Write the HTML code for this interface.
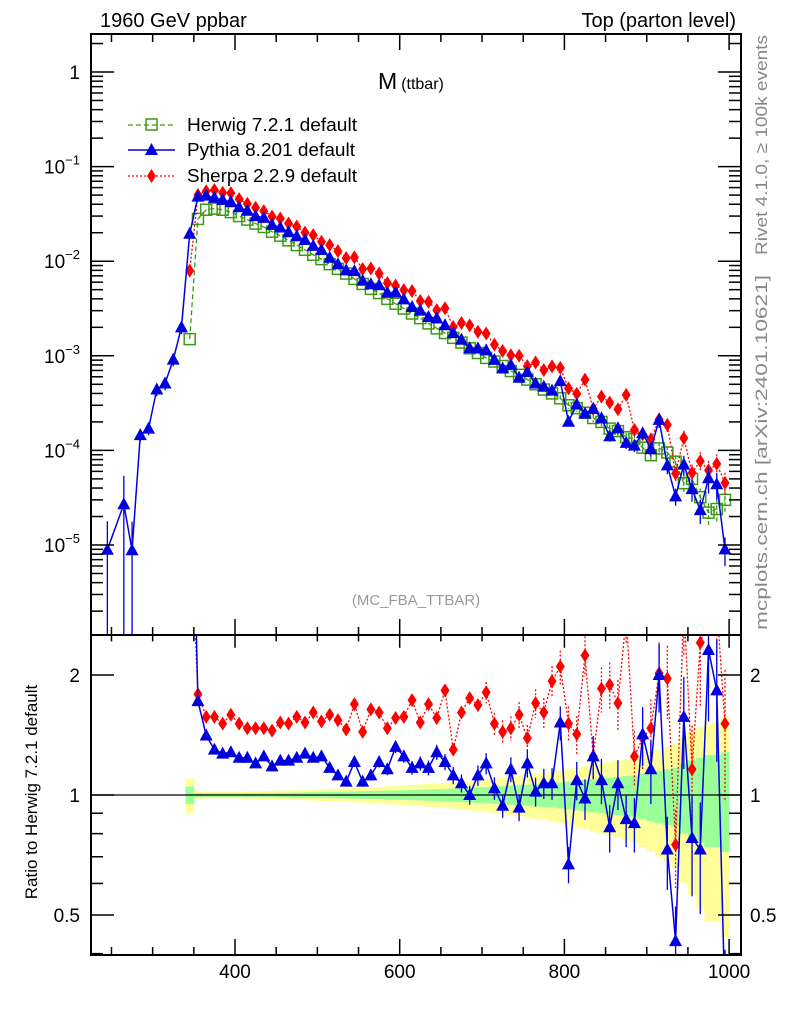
<!DOCTYPE html>
<html><head><meta charset="utf-8"><style>
html,body{margin:0;padding:0;background:#fff;width:786px;height:1024px;overflow:hidden;}
svg{display:block;font-family:"Liberation Sans",sans-serif;}
</style></head><body>
<svg id="chart" width="786" height="1024" viewBox="0 0 786 1024">
<defs>
<clipPath id="clipMain"><rect x="91" y="34" width="650" height="601"/></clipPath>
<clipPath id="clipRatio"><rect x="91" y="635" width="650" height="320"/></clipPath>
</defs>
<g id="bands" clip-path="url(#clipRatio)"></g>
<line x1="91" y1="795" x2="741" y2="795" stroke="#000" stroke-width="1.3"/>
<g id="mainG" clip-path="url(#clipMain)"></g>
<g id="ratioG" clip-path="url(#clipRatio)"></g>
<g id="axes"></g>
<rect x="91" y="34" width="650" height="601" fill="none" stroke="#000" stroke-width="2"/>
<rect x="91" y="635" width="650" height="320" fill="none" stroke="#000" stroke-width="2"/>
<text x="100" y="27" font-size="20">1960 GeV ppbar</text>
<text x="736" y="27" font-size="20" text-anchor="end">Top (parton level)</text>
<text x="378" y="89" font-size="23">M<tspan font-size="16" dx="4">(ttbar)</tspan></text>
<text x="416" y="605" font-size="15" fill="#999" text-anchor="middle">(MC_FBA_TTBAR)</text>
<text transform="translate(767,255) rotate(-90)" font-size="17" fill="#888" textLength="220" lengthAdjust="spacingAndGlyphs">Rivet 4.1.0, ≥ 100k events</text>
<text transform="translate(767,630) rotate(-90)" font-size="17" fill="#888" textLength="355" lengthAdjust="spacingAndGlyphs">mcplots.cern.ch [arXiv:2401.10621]</text>
<text transform="translate(37,792) rotate(-90)" font-size="17" text-anchor="middle">Ratio to Herwig 7.2.1 default</text>
<g>
<g>
<line x1="128" y1="125" x2="175" y2="125" stroke="#3c9a14" stroke-width="1.3" stroke-dasharray="5,3"/>
<rect x="146" y="119" width="11" height="11" fill="none" stroke="#3c9a14" stroke-width="1.5"/>
<text x="187" y="131" font-size="18" textLength="170" lengthAdjust="spacingAndGlyphs">Herwig 7.2.1 default</text></g>
<g>
<line x1="128" y1="150" x2="175" y2="150" stroke="#0000e0" stroke-width="1.5"/>
<polygon points="151.5,143 145,155 158,155" fill="#0000e0"/>
<text x="187" y="156" font-size="18" textLength="168" lengthAdjust="spacingAndGlyphs">Pythia 8.201 default</text></g>
<g>
<line x1="128" y1="176" x2="175" y2="176" stroke="#ff0000" stroke-width="1.3" stroke-dasharray="2,2"/>
<polygon points="151.5,169 156,176 151.5,183 147,176" fill="#ff0000"/>
<text x="187" y="182" font-size="18" textLength="170" lengthAdjust="spacingAndGlyphs">Sherpa 2.2.9 default</text></g>
</g>
</svg>
<script>
const pyLowBins=[245,265,275,285,295,305,315,325,335];
const pyLowVals=[8.9e-6,2.7e-5,8.8e-6,1.45e-4,1.7e-4,4.4e-4,5.1e-4,9.1e-4,2.0e-3];
const bins=[345,355,365,375,385,395,405,415,425,435,445,455,465,475,485,495,505,515,525,535,545,555,565,575,585,595,605,615,625,635,645,655,665,675,685,695,705,715,725,735,745,755,765,775,785,795,805,815,825,835,845,855,865,875,885,895,905,915,925,935,945,955,965,975,985,995];
const herwig=[1.5e-3,2.8e-2,3.5e-2,3.6e-2,3.5e-2,3.3e-2,3.0e-2,2.75e-2,2.5e-2,2.3e-2,2.05e-2,1.86e-2,1.66e-2,1.48e-2,1.32e-2,1.17e-2,1.05e-2,9.3e-3,8.3e-3,7.4e-3,6.5e-3,5.75e-3,5.1e-3,4.6e-3,4.0e-3,3.55e-3,3.16e-3,2.8e-3,2.5e-3,2.2e-3,1.95e-3,1.74e-3,1.55e-3,1.38e-3,1.2e-3,1.07e-3,9.5e-4,8.7e-4,7.8e-4,6.9e-4,6.3e-4,5.6e-4,5.0e-4,4.4e-4,4.0e-4,3.55e-4,3.0e-4,2.8e-4,2.5e-4,2.2e-4,2.0e-4,1.7e-4,1.6e-4,1.38e-4,1.32e-4,1.07e-4,8.9e-5,1.05e-4,9.5e-5,7.6e-5,4.5e-5,5.0e-5,3.2e-5,2.2e-5,2.4e-5,3.0e-5];
const herwigErr=[0.05,0.012,0.01,0.01,0.01,0.01,0.01,0.011,0.011,0.012,0.012,0.013,0.013,0.014,0.015,0.016,0.017,0.018,0.019,0.02,0.021,0.022,0.023,0.024,0.026,0.027,0.028,0.03,0.031,0.033,0.034,0.036,0.038,0.04,0.042,0.045,0.047,0.05,0.052,0.055,0.058,0.06,0.064,0.067,0.07,0.075,0.08,0.085,0.09,0.095,0.1,0.105,0.11,0.115,0.12,0.13,0.14,0.15,0.16,0.17,0.2,0.22,0.24,0.26,0.26,0.28];
const pythiaRatio=[13,1.72,1.41,1.30,1.27,1.28,1.24,1.24,1.20,1.25,1.18,1.22,1.22,1.24,1.27,1.24,1.25,1.17,1.12,1.08,1.21,1.08,1.12,1.21,1.16,1.32,1.25,1.17,1.20,1.17,1.28,1.21,1.12,1.07,1.00,1.12,1.20,1.04,0.94,1.16,0.93,1.20,1.02,1.07,1.07,1.52,0.67,1.09,0.98,1.25,1.09,0.83,1.07,0.87,0.85,1.42,1.16,2.0,0.73,0.43,1.57,0.78,0.73,2.31,1.83,0.3];
const sherpaRatio=[5.3,1.79,1.57,1.57,1.51,1.59,1.51,1.47,1.47,1.47,1.45,1.52,1.51,1.57,1.52,1.61,1.53,1.59,1.54,1.46,1.69,1.44,1.64,1.61,1.47,1.56,1.57,1.73,1.52,1.69,1.56,1.83,1.30,1.61,1.75,1.68,1.81,1.51,1.44,1.47,1.59,1.39,1.70,1.61,1.93,2.10,1.51,1.42,2.24,1.25,1.85,1.89,1.70,2.8,1.25,1.39,1.47,2.02,1.96,0.75,3.0,1.16,2.41,2.8,3.0,1.51];
const xTickMajor=[400,600,800,1000];
const yMainTicks=[0,-1,-2,-3,-4,-5];
const ratioTicks=[2,1,0.5];

const NS="http://www.w3.org/2000/svg";
const X=v=>235+(v-400)*0.8235;
const YM=v=>72-Math.log10(v)*94.6;
const YR=r=>795-Math.log2(r)*120;
function mk(tag,attrs,parent){const e=document.createElementNS(NS,tag);for(const k in attrs)e.setAttribute(k,attrs[k]);parent.appendChild(e);return e;}
const bandsG=document.getElementById('bands'),mainG=document.getElementById('mainG'),ratioG=document.getElementById('ratioG'),axes=document.getElementById('axes');
const GREEN='#3c9a14',BLUE='#0000e0',RED='#ff0000';

bins.forEach((b,i)=>{
  const e=herwigErr[i];
  const y=mk('rect',{x:X(b-5),width:X(b+5)-X(b-5)+0.5,y:YR(1+2*e),height:YR(Math.max(1-2*e,0.05))-YR(1+2*e),fill:'#ffff99'},bandsG);
  
  
  const g=mk('rect',{x:X(b-5),width:X(b+5)-X(b-5)+0.5,y:YR(1+e),height:YR(1-e)-YR(1+e),fill:'#99ff99'},bandsG);
  
  
});

function tri(g,x,y,c,name){const p=mk('polygon',{points:`${x},${y-7} ${x-6.5},${y+5} ${x+6.5},${y+5}`,fill:c},g);}
function dia(g,x,y,c,name){const p=mk('polygon',{points:`${x},${y-7} ${x+4.5},${y} ${x},${y+7} ${x-4.5},${y}`,fill:c},g);}
function sq(g,x,y,c,name){const p=mk('rect',{x:x-5.5,y:y-5.5,width:11,height:11,fill:'none',stroke:c,'stroke-width':1.5},g);}
function errbar(g,x,y1,y2,c,dash){const l=mk('line',{x1:x,x2:x,y1:y1,y2:y2,stroke:c,'stroke-width':1.3},g);if(dash)l.setAttribute('stroke-dasharray',dash);}

let hp=bins.map((b,i)=>[X(b),YM(herwig[i])]);
let l=mk('polyline',{points:hp.map(p=>p.join(',')).join(' '),fill:'none',stroke:GREEN,'stroke-width':1.3,'stroke-dasharray':'5,3'},mainG);


bins.forEach((b,i)=>{const e=herwigErr[i];if(e>0.06)errbar(mainG,X(b),YM(herwig[i]*(1+e)),YM(herwig[i]*Math.max(1-e,0.05)),GREEN,'4,2');sq(mainG,X(b),YM(herwig[i]),GREEN,'herwig-point');});
const sh=bins.map((b,i)=>herwig[i]*sherpaRatio[i]);
l=mk('polyline',{points:bins.map((b,i)=>X(b)+','+YM(sh[i])).join(' '),fill:'none',stroke:RED,'stroke-width':1.3,'stroke-dasharray':'2,2'},mainG);


bins.forEach((b,i)=>{const e=herwigErr[i];if(e>0.06)errbar(mainG,X(b),YM(sh[i]*(1+e)),YM(sh[i]*(1-e)),RED,'2,2');dia(mainG,X(b),YM(sh[i]),RED,'sherpa-point');});
const pyB=pyLowBins.concat(bins);
const pyV=pyLowVals.concat(bins.map((b,i)=>herwig[i]*pythiaRatio[i]));
l=mk('polyline',{points:pyB.map((b,i)=>X(b)+','+YM(pyV[i])).join(' '),fill:'none',stroke:BLUE,'stroke-width':1.5},mainG);


pyB.forEach((b,i)=>{
  let e=i<pyLowBins.length?(pyV[i]<5e-5?1:0.15):herwigErr[i-pyLowBins.length]*1.2;
  if(e>0.06)errbar(mainG,X(b),YM(pyV[i]*(1+e)),YM(Math.max(pyV[i]*(1-e),1e-9)),BLUE);
  tri(mainG,X(b),YM(pyV[i]),BLUE,'pythia-point');
});

l=mk('polyline',{points:bins.map((b,i)=>X(b)+','+YR(sherpaRatio[i])).join(' '),fill:'none',stroke:RED,'stroke-width':1.3,'stroke-dasharray':'2,2'},ratioG);


bins.forEach((b,i)=>{const r=sherpaRatio[i],e=herwigErr[i]*1.3;if(e>0.06)errbar(ratioG,X(b),YR(r*(1+e)),YR(r*(1-e)),RED,'2,2');dia(ratioG,X(b),YR(r),RED,'sherpa-ratio-point');});
l=mk('polyline',{points:bins.map((b,i)=>X(b)+','+YR(pythiaRatio[i])).join(' '),fill:'none',stroke:BLUE,'stroke-width':1.5},ratioG);


bins.forEach((b,i)=>{const r=pythiaRatio[i],e=herwigErr[i]*1.3;if(e>0.025)errbar(ratioG,X(b),YR(r*(1+e)),YR(r*Math.max(1-e,0.05)),BLUE);tri(ratioG,X(b),YR(r),BLUE,'pythia-ratio-point');});

function tk(x1,y1,x2,y2){const t=mk('line',{x1,y1,x2,y2,stroke:'#000','stroke-width':1.5},axes);}
for(let v=250;v<=1000;v+=50){const x=X(v),maj=xTickMajor.includes(v),L=maj?16:8;
  tk(x,34,x,34+L);tk(x,635,x,635-L);tk(x,635,x,635+L*0.8);tk(x,955,x,955-L);}
xTickMajor.forEach(v=>{const t=mk('text',{x:X(v),y:978,'font-size':19,'text-anchor':'middle'},axes);t.textContent=v;});
for(let d=-6;d<=0;d++){for(let m=1;m<10;m++){const v=m*Math.pow(10,d),y=YM(v);if(y<35||y>634)continue;const L=m===1?23:12;tk(91,y,91+L,y);tk(741,y,741-L,y);}}
yMainTicks.forEach(d=>{const y=YM(Math.pow(10,d));const t=mk('text',{x:80,y:y+7,'font-size':19,'text-anchor':'end'},axes);
  if(d===0)t.textContent='1';else{t.textContent='10';const s=mk('tspan',{dy:-9,'font-size':13},t);s.textContent='−'+(-d);}
  });
[0.4,0.5,0.6,0.7,0.8,0.9,1,2].forEach(r=>{const y=YR(r),maj=ratioTicks.includes(r),L=maj?23:12;tk(91,y,91+L,y);tk(741,y,741-L,y);});
ratioTicks.forEach(r=>{const y=YR(r);
  let t=mk('text',{x:80,y:y+7,'font-size':19,'text-anchor':'end'},axes);t.textContent=r;
  t=mk('text',{x:750,y:y+7,'font-size':19},axes);t.textContent=r;});
</script>
</body></html>
